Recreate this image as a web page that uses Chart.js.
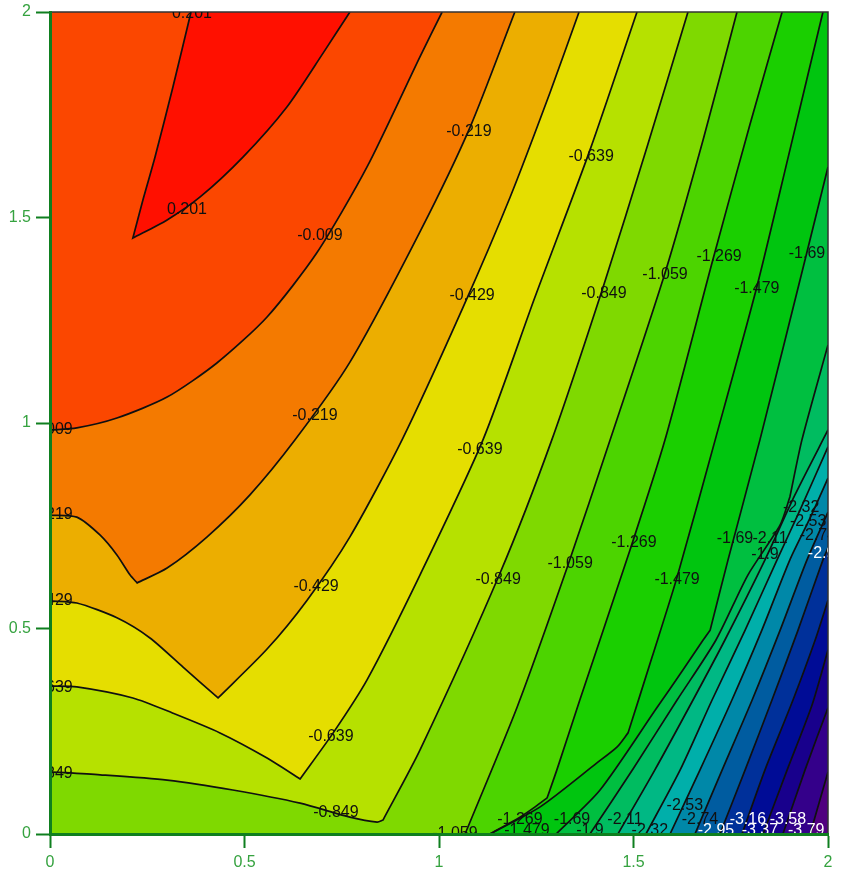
<!DOCTYPE html>
<html>
<head>
<meta charset="utf-8">
<title>Contour</title>
<script src="https://cdn.jsdelivr.net/npm/chart.js@4/dist/chart.umd.min.js"></script>
<style>
  html, body { margin: 0; padding: 0; background: #fff; }
  canvas { display: block; }
</style>
</head>
<body>
<canvas id="myChart" width="843" height="874"></canvas>
<script>
// contour lines, [x, y] in axis units
// a point given twice is a sharp corner, the spline does not round it
const c_p0201 = [[.3625,2],[.316,1.8175],[.27,1.647],[.239,1.543],[.213,1.45],[.213,1.45],[.301,1.494],[.386,1.55],[.496,1.647],[.609,1.769],[.702,1.9],[.771,2]];
const c_n0009 = [[0,.983],[.069,.988],[.172,1.012],[.301,1.063],[.429,1.146],[.558,1.258],[.686,1.414],[.815,1.623],[.951,1.891],[1.008,2]];
const c_n0219 = [[0,.776],[.069,.771],[.129,.727],[.172,.679],[.206,.63],[.224,.611],[.224,.611],[.301,.647],[.404,.723],[.514,.825],[.63,.959],[.771,1.148],[.951,1.465],[1.08,1.72],[1.195,2]];
const c_n0429 = [[0,.567],[.069,.562],[.172,.526],[.257,.477],[.342,.406],[.432,.331],[.432,.331],[.558,.45],[.661,.569],[.771,.723],[.905,.959],[1.062,1.282],[1.183,1.55],[1.285,1.803],[1.36,2]];
const c_n0639 = [[0,.36],[.069,.358],[.213,.331],[.316,.294],[.437,.246],[.558,.185],[.643,.134],[.643,.134],[.728,.246],[.815,.375],[.951,.63],[1.113,.959],[1.247,1.307],[1.388,1.664],[1.509,2]];
const c_n0849 = [[0,.151],[.129,.144],[.301,.131],[.47,.107],[.643,.075],[.771,.041],[.841,.029],[.856,.034],[.856,.034],[.951,.204],[1.157,.635],[1.29,.959],[1.422,1.331],[1.535,1.672],[1.64,2]];
const c_n1059 = [[1.067,0],[1.201,.309],[1.329,.647],[1.44,.959],[1.581,1.365],[1.679,1.689],[1.766,2]];
const c_n1269 = [[1.131,0],[1.208,.041],[1.247,.066],[1.278,.088],[1.278,.088],[1.303,.156],[1.362,.326],[1.491,.691],[1.581,.959],[1.704,1.397],[1.799,1.725],[1.882,2]];
const c_n1479 = [[1.131,0],[1.26,.066],[1.406,.173],[1.458,.212],[1.486,.246],[1.486,.246],[1.548,.431],[1.612,.625],[1.71,.959],[1.817,1.331],[1.902,1.664],[1.987,2]];
const c_n1690 = [[1.301,0],[1.414,.107],[1.56,.307],[1.627,.399],[1.679,.472],[1.697,.496],[1.697,.496],[1.743,.667],[1.825,.959],[1.946,1.416],[2,1.623]];
const c_n1900 = [[1.388,0],[1.5,.16],[1.612,.326],[1.712,.472],[1.794,.63],[1.877,.752],[1.902,.82],[1.902,.82],[1.933,.959],[2,1.19]];
const c_n2110 = [[1.46,0],[1.555,.156],[1.653,.326],[1.735,.472],[1.838,.667],[1.915,.825],[2,.983]];
const c_n2320 = [[1.532,0],[1.62,.156],[1.702,.326],[1.787,.496],[1.869,.667],[1.928,.788],[2,.942]];
const c_n2530 = [[1.594,0],[1.671,.156],[1.753,.326],[1.83,.496],[1.902,.667],[1.954,.769],[2,.866]];
const c_n2740 = [[1.658,0],[1.728,.156],[1.805,.326],[1.877,.496],[1.946,.667],[2,.783]];
const c_n2950 = [[1.722,0],[1.787,.156],[1.856,.326],[1.923,.496],[1.987,.667],[2,.696]];
const c_n3160 = [[1.779,0],[1.838,.156],[1.91,.326],[1.967,.472],[2,.569]];
const c_n3370 = [[1.833,0],[1.895,.156],[1.959,.314],[2,.448]];
const c_n3580 = [[1.884,0],[1.941,.156],[2,.307]];
const c_n3790 = [[1.954,0],[2,.151]];

// highest level first
const contours = [c_p0201,c_n0009,c_n0219,c_n0429,c_n0639,c_n0849,c_n1059,c_n1269,c_n1479,c_n1690,c_n1900,c_n2110,c_n2320,c_n2530,c_n2740,c_n2950,c_n3160,c_n3370,c_n3580,c_n3790];
// colour above each level, then the lowest band
const bandColors = ['#ff1000','#fb4700','#f47a00','#ecae00','#e5de00','#b6e100','#7fd900','#4cd400','#1acf00','#00c50f','#00bf40','#00bc60','#00b884','#00afaa','#0088a8','#005ca0','#00309a','#000c96','#18008c','#34008a','#50007f'];

const tickValues = [0, 0.5, 1, 1.5, 2];
const frame = [[0,2],[2,2],[2,0]];
const wholeArea = [[0,0],[2,0],[2,2],[0,2]];

const blackLabels = [
  [.365,2,'0.201'],[.352,1.523,'0.201'],[.694,1.462,'-0.009'],[1.077,1.713,'-0.219'],[1.391,1.652,'-0.639'],
  [1.72,1.409,'-1.269'],[1.946,1.418,'-1.69'],[1.581,1.367,'-1.059'],[1.817,1.333,'-1.479'],[1.085,1.316,'-0.429'],
  [1.424,1.319,'-0.849'],[0,.99,'-0.009'],[.681,1.022,'-0.219'],[1.105,.939,'-0.639'],[0,.781,'-0.219'],
  [1.501,.713,'-1.269'],[1.337,.664,'-1.059'],[0,.572,'-0.429'],[1.152,.623,'-0.849'],[.684,.608,'-0.429'],
  [1.612,.625,'-1.479'],[0,.36,'-0.639'],[.722,.243,'-0.639'],[0,.151,'-0.849'],[.735,.056,'-0.849'],
  [1.041,.005,'-1.059'],[1.208,.041,'-1.269'],[1.226,.012,'-1.479'],[1.342,.041,'-1.69'],[1.388,.012,'-1.9'],
  [1.478,.041,'-2.11'],[1.542,.012,'-2.32'],[1.632,.075,'-2.53'],[1.671,.039,'-2.74'],
  [1.761,.723,'-1.69'],[1.851,.723,'-2.11'],[1.838,.684,'-1.9'],[1.931,.8,'-2.32'],[1.949,.764,'-2.53'],[1.974,.732,'-2.74']
];
const whiteLabels = [
  [1.712,.012,'-2.95'],[1.794,.041,'-3.16'],[1.825,.012,'-3.37'],[1.897,.041,'-3.58'],[1.944,.012,'-3.79'],[1.995,.686,'-2.95']
];

const toPoints = arr => arr.map(p => ({x: p[0], y: p[1]}));

// close a contour round the top left side so it covers everything above its level
// ends and corners are doubled to keep the closing edges straight under the spline
function regionAbove(line) {
  const first = line[0], last = line[line.length - 1];
  if (first[1] === 2) return [first, ...line, last];
  const pts = [first, ...line, last];
  if (last[0] === 2) pts.push([2, 2], [2, 2]);
  pts.push([0, 2], [0, 2]);
  if (first[1] === 0) pts.push([0, 0], [0, 0]);
  return pts;
}

const lineSets = contours.map(c => ({
  data: toPoints(c), borderColor: '#101010', borderWidth: 1.7, fill: false, pointRadius: 0, showLine: true, tension: 0.25
}));
const frameSet = {
  data: toPoints(frame), borderColor: '#333', borderWidth: 1.5, fill: false, pointRadius: 0, showLine: true, clip: 4
};
const fillSets = contours.map((c, i) => ({
  data: toPoints(regionAbove(c)), backgroundColor: bandColors[i], borderWidth: 0, fill: 'shape', pointRadius: 0, showLine: true, tension: 0.25
}));
const baseSet = {
  data: toPoints(wholeArea), backgroundColor: bandColors[bandColors.length - 1], borderWidth: 0, fill: 'shape', pointRadius: 0, showLine: true
};

// first dataset ends up on top
const datasets = [frameSet, ...lineSets, ...fillSets, baseSet];

const contourLabels = {
  id: 'contourLabels',
  afterDatasetsDraw(chart) {
    const {ctx, chartArea: a, scales: {x, y}} = chart;
    ctx.save();
    ctx.beginPath();
    ctx.rect(a.left, a.top, a.right - a.left, a.bottom - a.top);
    ctx.clip();
    ctx.font = '16px "Liberation Sans"';
    ctx.textAlign = 'center';
    ctx.textBaseline = 'middle';
    // middle baseline sits a bit high for digits
    ctx.fillStyle = '#101010';
    blackLabels.forEach(l => ctx.fillText(l[2], x.getPixelForValue(l[0]), y.getPixelForValue(l[1]) + 2));
    ctx.fillStyle = '#fff';
    whiteLabels.forEach(l => ctx.fillText(l[2], x.getPixelForValue(l[0]), y.getPixelForValue(l[1]) + 2));
    ctx.restore();
  }
};

const axisGreen = '#0f7f1f';
const tickGreen = '#35a23f';
const axisOptions = (size, prop) => ({
  type: 'linear',
  min: 0,
  max: 2,
  afterBuildTicks: axis => { axis.ticks = tickValues.map(v => ({value: v})); },
  afterFit: axis => {
    axis[prop] = size;
    axis.paddingTop = 0;
    axis.paddingBottom = 0;
    axis.paddingLeft = 0;
    axis.paddingRight = 0;
  },
  grid: {drawOnChartArea: false, color: axisGreen, tickLength: 14, tickWidth: 2, z: 1},
  border: {color: axisGreen, width: 3, z: 1},
  ticks: {color: tickGreen, font: {family: 'Liberation Sans', size: 16}, padding: 5, maxRotation: 0, callback: v => String(v)}
});

new Chart(document.getElementById('myChart'), {
  type: 'scatter',
  data: {datasets: datasets},
  options: {
    responsive: false,
    animation: false,
    events: [],
    layout: {padding: {top: 12, right: 15, bottom: 0, left: 0}},
    plugins: {legend: {display: false}, tooltip: {enabled: false}, title: {display: false}},
    scales: {
      x: axisOptions(40, 'height'),
      y: axisOptions(50, 'width')
    }
  },
  plugins: [contourLabels]
});
</script>
</body>
</html>
